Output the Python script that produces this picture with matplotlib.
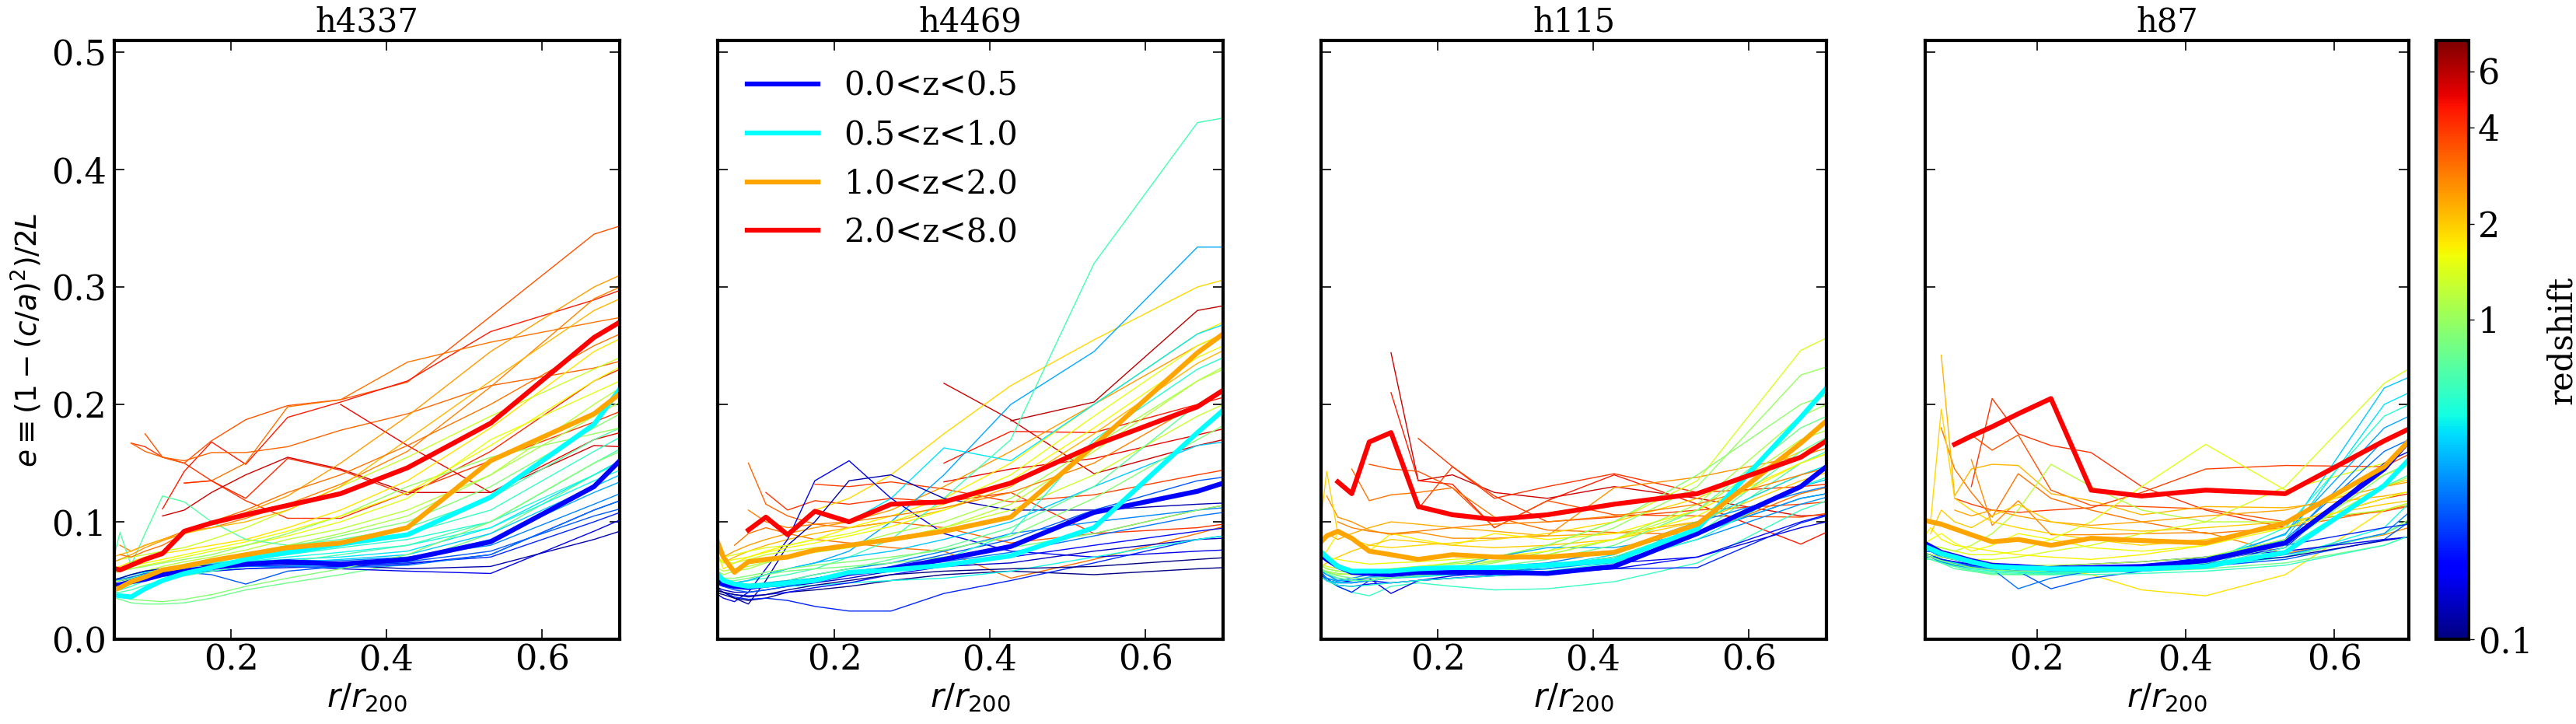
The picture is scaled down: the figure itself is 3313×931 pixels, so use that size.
import numpy as np
import matplotlib
matplotlib.use('Agg')
import matplotlib.pyplot as plt
from matplotlib.colors import LogNorm
from matplotlib.cm import ScalarMappable

plt.rcParams['font.family'] = 'DejaVu Serif'

N = None
# radial bins (r/r200), log spaced
r_bins = [0.0458, 0.0573, 0.0716, 0.0895, 0.112, 0.140, 0.175,
          0.219, 0.273, 0.341, 0.427, 0.534, 0.667, 0.834]

halo_names = ['h4337', 'h4469', 'h115', 'h87']
bin_labels = ['0.0<z<0.5', '0.5<z<1.0', '1.0<z<2.0', '2.0<z<8.0']
bin_colors = ['b', 'cyan', 'orange', 'red']

# e profiles, in units of 1e-3 ; one row per snapshot
h4337_z = [4.0, 3.5, 4.5, 3.0, 3.2, 5.0, 4.2, 2.8, 5.5, 1.8, 1.5, 1.2, 0.9, 0.7,
           0.8, 1.3, 2.2, 1.0, 0.15, 0.2, 0.3, 0.4, 0.25, 0.45, 0.35, 0.12,
           0.55, 0.6, 2.5, 0.18, 0.5, 0.65, 1.1, 1.6, 0.28, 3.0, 0.9]
h4337_e = [
    [N, N, 167, 164, 155, 150, 135, 118, 103, 103, 125, 152, 185, 230],
    [N, N, N, 175, 155, 150, 169, 187, 199, 204, 219, 275, 345, 380],
    [N, N, N, N, 111, 143, 168, 149, 189, 202, 220, 262, 289, 330],
    [N, N, N, N, N, 133, 135, 150, 198, 204, 236, 253, 270, 290],
    [N, N, 167, 160, 155, 152, 159, 159, 164, 178, 192, 216, 231, 260],
    [N, N, N, N, N, N, N, N, N, 200, 165, 125, 170, 200],
    [N, N, N, N, N, 133, 135, 120, 154, 144, 123, 160, 220, 270],
    [N, 80, 75, 80, 85, 92, 95, 103, 115, 132, 160, 215, 290, 340],
    [N, N, N, N, 105, 110, 125, 140, 155, 145, 125, 125, 165, 160],
    [60, 62, 66, 70, 73, 76, 80, 85, 95, 110, 135, 180, 245, 300],
    [55, 58, 60, 63, 66, 70, 75, 80, 88, 100, 120, 170, 210, 260],
    [50, 52, 55, 58, 62, 66, 70, 76, 85, 94, 110, 140, 200, 270],
    [45, 48, 52, 55, 60, 63, 67, 72, 78, 88, 100, 130, 180, 240],
    [60, 91, 63, 90, 122, 117, 100, 85, 80, 85, 95, 120, 170, 220],
    [36, 34, 31, 30, 30, 31, 35, 42, 48, 55, 65, 90, 140, 200],
    [65, 68, 70, 72, 75, 78, 85, 95, 110, 130, 155, 190, 230, 280],
    [70, 72, 75, 80, 85, 90, 95, 100, 110, 130, 170, 220, 280, 330],
    [55, 58, 60, 62, 65, 68, 72, 80, 90, 105, 130, 155, 175, 200],
    [50, 50, 52, 55, 58, 60, 62, 63, 62, 60, 58, 56, 92, 140],
    [48, 50, 52, 55, 57, 58, 60, 62, 63, 63, 65, 70, 100, 140],
    [50, 52, 55, 58, 60, 62, 64, 66, 67, 67, 70, 80, 115, 160],
    [45, 47, 50, 53, 56, 58, 60, 63, 65, 68, 72, 90, 130, 180],
    [45, 46, 50, 52, 55, 57, 55, 47, 58, 62, 66, 75, 105, 135],
    [50, 52, 55, 57, 60, 63, 65, 66, 68, 70, 75, 95, 140, 200],
    [45, 48, 50, 52, 54, 56, 58, 60, 62, 64, 68, 85, 125, 170],
    [50, 52, 55, 58, 60, 62, 63, 64, 64, 63, 60, 62, 85, 120],
    [40, 42, 45, 50, 55, 60, 65, 68, 72, 78, 85, 100, 140, 190],
    [50, 50, 52, 55, 58, 62, 66, 70, 75, 80, 90, 110, 160, 220],
    [65, 68, 72, 78, 84, 90, 98, 108, 122, 150, 190, 245, 300, 350],
    [47, 48, 50, 52, 54, 56, 58, 60, 61, 62, 64, 72, 110, 150],
    [42, 44, 47, 50, 54, 58, 62, 66, 70, 74, 80, 95, 135, 180],
    [40, 40, 42, 46, 50, 54, 58, 62, 66, 72, 80, 100, 150, 210],
    [48, 50, 53, 56, 60, 64, 68, 73, 80, 90, 105, 140, 190, 250],
    [58, 60, 62, 65, 68, 72, 77, 83, 92, 105, 125, 165, 220, 280],
    [50, 51, 53, 56, 58, 60, 61, 62, 62, 61, 63, 72, 110, 150],
    [N, 72, 70, 75, 80, 90, 100, 110, 125, 140, 165, 200, 250, 300],
    [38, 36, 34, 33, 32, 34, 38, 45, 52, 60, 72, 100, 150, 200],
]
h4337_mean = [
    [46, 46, 49, 51, 55, 58, 61, 64, 66, 64, 68, 83, 130, 241],
    [38, 37, 36, 43, 50, 56, 61, 68, 74, 81, 89, 121, 183, 335],
    [41, 44, 49, 53, 59, 62, 67, 72, 78, 82, 95, 152, 192, 278],
    [61, 59, 63, 68, 73, 92, 99, 106, 114, 124, 146, 184, 257, 323],
]

h4469_z = [5.5, 6.0, 4.5, 5.0, 3.8, 3.2, 3.0, 4.0, 2.5, 1.9, 2.2, 1.7, 0.45,
           0.35, 0.65, 0.15, 0.12, 0.10, 0.13, 0.2, 0.3, 0.4, 1.1, 0.85, 1.3,
           1.5, 0.75, 0.5, 0.25, 0.55, 0.18, 0.28, 0.9, 1.2, 1.6, 2.8, 0.1]
h4469_e = [
    [N, N, N, N, N, N, N, N, N, 218, 187, 141, 165, 190],
    [N, N, N, N, N, N, N, N, N, N, 186, 202, 280, 300],
    [N, N, N, N, N, N, N, N, N, 150, 177, 176, 200, 230],
    [N, N, N, N, N, N, N, N, N, 134, 145, 154, 174, 200],
    [N, N, N, N, N, N, 132, 130, 134, 128, 117, 123, 140, 160],
    [N, N, N, 150, 115, 105, 98, 95, 100, 95, 82, 90, 110, 130],
    [N, N, 80, 90, 95, 90, 85, 82, 78, 75, 52, 68, 90, 120],
    [N, N, N, N, 125, 110, 118, 115, 120, 117, 125, 90, 95, 110],
    [N, 70, 75, 80, 85, 90, 95, 100, 110, 130, 160, 200, 250, 300],
    [N, N, N, N, N, N, 110, 120, 140, 175, 216, 255, 300, 330],
    [N, 65, 70, 75, 80, 85, 90, 95, 100, 110, 130, 175, 235, 290],
    [80, 60, 65, 70, 75, 80, 85, 95, 105, 120, 150, 200, 260, 310],
    [N, N, N, N, N, N, N, 100, 120, 163, 152, 200, 260, 300],
    [N, 45, 48, 50, 55, 60, 65, 75, 100, 140, 200, 245, 334, 334],
    [50, 45, 48, 50, 52, 55, 60, 70, 85, 120, 170, 320, 440, 460],
    [40, 35, 32, 40, 60, 85, 135, 152, 120, 90, 75, 70, 75, 80],
    [N, 40, 35, 30, 50, 80, 100, 135, 140, 120, 110, 110, 115, 120],
    [40, 38, 35, 33, 35, 40, 42, 45, 50, 55, 58, 55, 60, 65],
    [45, 42, 40, 40, 42, 45, 48, 52, 58, 62, 65, 75, 85, 90],
    [45, 40, 36, 34, 35, 33, 28, 24, 24, 39, 50, 65, 85, 100],
    [50, 47, 45, 45, 48, 50, 55, 60, 65, 75, 90, 100, 110, 120],
    [55, 50, 48, 50, 55, 60, 65, 70, 75, 85, 100, 130, 165, 180],
    [60, 55, 58, 60, 65, 70, 75, 80, 90, 100, 120, 165, 220, 280],
    [55, 50, 50, 52, 55, 58, 60, 62, 65, 70, 78, 90, 110, 130],
    [70, 65, 65, 68, 72, 75, 78, 80, 85, 95, 110, 140, 190, 240],
    [75, 70, 72, 75, 78, 80, 85, 90, 100, 115, 140, 190, 250, 300],
    [50, 48, 45, 45, 47, 50, 55, 60, 68, 78, 95, 130, 200, 270],
    [50, 48, 46, 45, 45, 45, 46, 48, 50, 52, 58, 70, 85, 100],
    [48, 45, 42, 40, 42, 45, 50, 55, 62, 72, 85, 110, 135, 150],
    [52, 50, 48, 47, 48, 50, 52, 55, 60, 68, 90, 170, 230, 280],
    [42, 40, 38, 37, 38, 40, 44, 48, 55, 62, 70, 80, 92, 105],
    [48, 45, 44, 44, 46, 48, 52, 56, 60, 66, 74, 88, 105, 120],
    [58, 52, 52, 54, 57, 60, 63, 66, 70, 76, 88, 120, 170, 230],
    [62, 58, 60, 62, 66, 70, 74, 78, 85, 95, 115, 160, 220, 270],
    [72, 66, 68, 70, 74, 78, 82, 88, 96, 110, 135, 180, 240, 290],
    [N, N, N, 110, 100, 95, 98, 100, 105, 112, 125, 150, 200, 250],
    [42, 40, 38, 36, 38, 42, 46, 50, 55, 58, 60, 62, 68, 75],
]
h4469_mean = [
    [50, 47, 45, 44, 46, 48, 50, 56, 60, 68, 79, 108, 126, 161],
    [59, 50, 47, 45, 46, 48, 50, 57, 59, 63, 71, 95, 176, 272],
    [90, 70, 57, 66, 68, 70, 76, 80, 85, 92, 104, 165, 244, 325],
    [N, N, N, 93, 104, 89, 109, 100, 115, 117, 133, 165, 198, 269],
]

h115_z = [5.5, 4.5, 4.0, 3.5, 3.8, 3.0, 2.6, 2.3, 1.9, 1.7, 2.0, 1.4, 1.0,
          0.95, 1.2, 0.7, 0.6, 0.4, 0.2, 0.15, 0.3, 0.25, 0.45, 0.35, 0.8,
          0.18, 0.32, 0.55, 0.75, 1.1, 1.6, 2.8]
h115_e = [
    [N, N, N, N, N, 244, 135, 140, 125, 120, 130, 120, 105, 110],
    [N, N, N, N, N, 210, 135, 132, 95, 118, 140, 115, 81, 132],
    [N, N, N, N, N, N, 171, 147, 120, 130, 141, 125, 130, 140],
    [N, N, N, N, 149, 145, 143, 129, 95, 118, 106, 105, 104, 120],
    [N, N, N, N, N, N, 111, 147, 122, 100, 104, 110, 115, 125],
    [N, N, N, 145, 118, 123, 125, 129, 104, 93, 91, 89, 124, 150],
    [N, 122, 104, 100, 93, 89, 91, 86, 86, 88, 129, 138, 156, 190],
    [N, 90, 85, 90, 95, 100, 98, 95, 92, 88, 90, 100, 140, 170],
    [80, 143, 90, 85, 80, 78, 80, 82, 85, 90, 100, 120, 160, 200],
    [70, 75, 90, 85, 75, 90, 85, 80, 90, 85, 90, 110, 150, 190],
    [60, 65, 70, 75, 80, 85, 83, 80, 78, 80, 85, 100, 135, 170],
    [65, 62, 60, 58, 58, 60, 62, 65, 70, 80, 100, 135, 246, 300],
    [60, 58, 56, 55, 55, 56, 58, 60, 65, 75, 95, 130, 225, 260],
    [65, 60, 58, 57, 57, 58, 60, 65, 70, 80, 100, 140, 200, 240],
    [60, 57, 55, 56, 58, 60, 62, 64, 67, 72, 85, 110, 170, 210],
    [60, 55, 52, 50, 50, 52, 54, 55, 57, 60, 68, 90, 150, 200],
    [55, 50, 45, 40, 37, 45, 48, 45, 42, 43, 49, 65, 110, 150],
    [55, 52, 50, 50, 52, 54, 56, 56, 57, 60, 68, 90, 130, 160],
    [60, 52, 45, 40, 50, 48, 50, 52, 55, 57, 60, 61, 99, 130],
    [58, 50, 48, 50, 52, 39, 50, 54, 57, 62, 65, 70, 95, 120],
    [60, 55, 50, 52, 55, 57, 58, 60, 62, 65, 75, 100, 125, 150],
    [55, 50, 48, 48, 50, 52, 55, 57, 60, 62, 70, 90, 120, 140],
    [55, 50, 48, 48, 50, 52, 53, 55, 58, 62, 72, 100, 140, 180],
    [60, 55, 52, 50, 53, 55, 58, 60, 70, 78, 78, 90, 120, 140],
    [62, 57, 54, 52, 52, 53, 55, 58, 62, 68, 80, 110, 180, 230],
    [58, 50, 46, 45, 47, 48, 50, 52, 54, 56, 60, 70, 100, 130],
    [58, 52, 49, 48, 50, 52, 54, 56, 58, 60, 66, 85, 115, 145],
    [56, 50, 46, 45, 46, 48, 50, 52, 54, 58, 65, 85, 130, 170],
    [62, 56, 52, 50, 50, 52, 54, 56, 58, 62, 70, 95, 160, 220],
    [64, 60, 58, 57, 57, 58, 60, 62, 66, 72, 85, 115, 190, 240],
    [72, 70, 68, 66, 64, 65, 66, 68, 70, 75, 85, 105, 150, 190],
    [N, N, 100, 95, 92, 90, 92, 95, 98, 100, 105, 115, 140, 170],
]
h115_mean = [
    [74, 68, 62, 57, 56, 55, 57, 57, 57, 56, 62, 90, 130, 216],
    [77, 70, 62, 58, 58, 58, 60, 61, 61, 63, 67, 94, 189, 315],
    [80, 88, 92, 86, 75, 72, 68, 72, 70, 70, 74, 98, 167, 263],
    [N, N, 134, 124, 168, 176, 113, 106, 102, 106, 115, 124, 155, 226],
]

h87_z = [4.0, 3.5, 3.8, 3.0, 2.7, 2.2, 1.9, 1.8, 1.5, 1.4, 1.2, 1.0, 0.8,
         0.7, 0.4, 0.5, 0.3, 0.25, 0.12, 0.15, 0.2, 0.6, 0.45, 0.35, 0.28,
         0.55, 2.4, 1.7, 0.18, 0.32, 0.65, 0.9, 1.1, 2.0, 1.6]
h87_e = [
    [N, N, N, N, 130, 205, 175, 165, 159, 130, 110, 95, 120, 140],
    [N, N, N, N, 174, 161, 174, 127, 114, 113, 111, 100, 109, 130],
    [N, N, N, 120, 115, 110, 108, 110, 112, 125, 145, 148, 147, 200],
    [N, N, 180, 145, 125, 104, 141, 120, 110, 100, 90, 95, 110, 130],
    [N, N, N, N, 153, 97, 118, 89, 89, 90, 91, 73, 89, 120],
    [N, N, 242, 122, 145, 149, 148, 124, 118, 106, 113, 112, 122, 140],
    [N, 100, 196, 120, 110, 100, 95, 90, 85, 80, 85, 95, 130, 160],
    [N, 80, 75, 70, 68, 65, 62, 60, 55, 42, 37, 55, 110, 140],
    [N, 80, 78, 75, 72, 72, 75, 85, 100, 130, 166, 127, 150, 200],
    [75, 75, 72, 70, 68, 68, 70, 75, 80, 90, 100, 130, 218, 280],
    [80, 80, 78, 75, 80, 90, 110, 149, 130, 110, 100, 100, 110, 140],
    [70, 70, 68, 65, 63, 62, 60, 60, 60, 62, 65, 70, 90, 150],
    [68, 68, 65, 62, 58, 55, 55, 55, 57, 58, 60, 65, 80, 120],
    [70, 70, 65, 60, 58, 56, 55, 55, 58, 60, 63, 70, 90, 140],
    [75, 75, 70, 68, 64, 60, 58, 56, 57, 60, 68, 89, 214, 260],
    [72, 72, 68, 65, 63, 60, 58, 57, 57, 58, 62, 70, 95, 200],
    [75, 75, 70, 68, 65, 62, 60, 60, 60, 62, 65, 72, 90, 180],
    [70, 70, 66, 64, 62, 60, 58, 43, 52, 58, 62, 68, 85, 160],
    [70, 70, 68, 65, 62, 60, 58, 58, 58, 60, 64, 70, 84, 100],
    [72, 72, 68, 66, 64, 62, 60, 62, 64, 66, 70, 75, 85, 95],
    [75, 75, 70, 68, 65, 64, 62, 60, 60, 62, 70, 80, 95, 110],
    [70, 70, 68, 65, 62, 60, 57, 55, 55, 56, 58, 63, 80, 120],
    [72, 72, 68, 65, 63, 60, 58, 57, 57, 58, 62, 85, 200, 250],
    [75, 75, 70, 68, 65, 62, 60, 60, 60, 62, 65, 90, 180, 230],
    [70, 70, 66, 64, 62, 60, 43, 52, 58, 62, 68, 85, 160, 210],
    [72, 70, 66, 63, 60, 58, 57, 57, 58, 60, 65, 95, 190, 240],
    [N, N, N, 110, 105, 110, 105, 100, 97, 100, 105, 110, 130, 150],
    [85, 95, 85, 80, 78, 75, 72, 70, 68, 72, 80, 100, 140, 180],
    [74, 72, 68, 66, 63, 61, 60, 59, 60, 62, 66, 78, 150, 200],
    [72, 70, 66, 63, 61, 59, 58, 58, 59, 61, 66, 82, 170, 220],
    [70, 68, 65, 62, 59, 57, 56, 56, 57, 59, 63, 78, 130, 180],
    [72, 70, 67, 64, 61, 59, 58, 58, 59, 61, 65, 80, 140, 190],
    [74, 72, 70, 68, 66, 64, 63, 63, 64, 66, 70, 85, 130, 170],
    [N, 90, 110, 100, 95, 105, 115, 100, 95, 92, 95, 100, 115, 130],
    [80, 85, 90, 82, 75, 80, 90, 85, 78, 75, 80, 95, 120, 150],
]
h87_mean = [
    [83, 79, 74, 71, 67, 63, 62, 60, 61, 62, 67, 82, 145, 266],
    [80, 77, 73, 70, 66, 62, 61, 60, 60, 60, 62, 74, 131, 242],
    [102, 100, 98, 94, 89, 83, 85, 80, 86, 84, 82, 99, 147, 258],
    [N, N, N, 166, 173, 181, 192, 205, 127, 122, 127, 124, 169, 220],
]

all_z = [h4337_z, h4469_z, h115_z, h87_z]
all_e = [h4337_e, h4469_e, h115_e, h87_e]
all_mean = [h4337_mean, h4469_mean, h115_mean, h87_mean]

W, H = 3313, 931
fig = plt.figure(figsize=(W / 100, H / 100), dpi=100)

# axes boxes in pixels (left, width)
lefts = [147, 923, 1699, 2476]
widths = [650, 650, 650, 622]
top, bottom = 52, 822

norm = LogNorm(vmin=0.1, vmax=7.5)
cmap = plt.get_cmap('jet')

r = np.array(r_bins)
axes = []
for k in range(4):
    ax = fig.add_axes([lefts[k] / W, (H - bottom) / H, widths[k] / W, (bottom - top) / H])
    axes.append(ax)
    for z, vals in zip(all_z[k], all_e[k]):
        ax.plot(r, np.array(vals, dtype=float) / 1000., color=cmap(norm(z)), lw=1.0)
    for vals, c, lab in zip(all_mean[k], bin_colors, bin_labels):
        ax.plot(r, np.array(vals, dtype=float) / 1000., color=c, lw=4.5, label=lab)
    ax.set_xlim(0.05, 0.7)
    ax.set_ylim(0, 0.51)
    ax.set_xticks([0.2, 0.4, 0.6])
    ax.set_yticks([0.0, 0.1, 0.2, 0.3, 0.4, 0.5])
    ax.tick_params(direction='in', top=True, right=True, length=9.5, width=1.2,
                   labelsize=32)
    ax.tick_params(axis='x', pad=4)
    ax.tick_params(axis='y', pad=7)
    if k > 0:
        ax.set_yticklabels([])
    for sp in ax.spines.values():
        sp.set_linewidth(3)
    ax.set_title(halo_names[k], fontsize=30, pad=8)
    ax.set_xlabel(r'$r/r_{200}$', fontsize=30)

axes[0].set_ylabel(r'$e\equiv(1-(c/a)^2)/2L$', fontsize=27)
axes[0].yaxis.set_label_coords(-0.14, 0.5)

axes[1].legend(loc='upper left', frameon=False, fontsize=30, handlelength=2.2,
               handletextpad=0.8)

cax = fig.add_axes([3133 / W, (H - bottom) / H, 42 / W, (bottom - top) / H])
sm = ScalarMappable(norm=norm, cmap=cmap)
cb = fig.colorbar(sm, cax=cax)
cb.set_ticks([0.1, 1, 2, 4, 6])
cb.set_ticklabels(['0.1', '1', '2', '4', '6'])
cb.ax.minorticks_off()
cb.outline.set_linewidth(3)
cb.ax.tick_params(labelsize=32, length=5, width=1)
cb.set_label('redshift', fontsize=30, labelpad=12)

fig.savefig('out.png', dpi=100)
